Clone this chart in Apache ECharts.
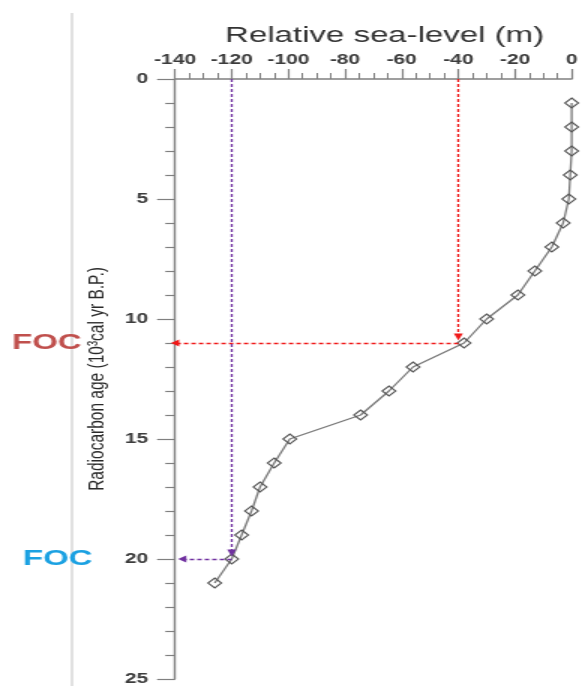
<!DOCTYPE html>
<html>
<head>
<meta charset="utf-8">
<script src="https://cdn.jsdelivr.net/npm/echarts@6/dist/echarts.min.js"></script>
<style>
  html, body { margin: 0; padding: 0; background: #fff; }
  #frame { width: 582px; height: 686px; overflow: hidden; position: relative; }
  /* the figure is laid out on a 388px-wide canvas and widened 1.5x */
  #chart { width: 388px; height: 686px; transform: scaleX(1.5); transform-origin: 0 0; }
</style>
</head>
<body>
<div id="frame"><div id="chart"></div></div>
<script>
// Radiocarbon age (10^3 cal yr B.P.) of each sample
const ages = [1, 2, 3, 4, 5, 6, 7, 8, 9, 10, 11, 12, 13, 14, 15, 16, 17, 18, 19, 20, 21];
// Relative sea-level (m) at each age
const seaLevels = [0, 0, 0, -0.5, -1, -3, -7, -13, -19, -30, -38, -56, -64.5, -74.5, -99.5, -105, -110, -113, -116.5, -120, -126];

const focLabels = ['FOC', 'FOC'];
const focSeaLevel = [-40, -120];
const focAge = [11, 20];
const focColors = ['#f01818', '#7030a0'];
const focTextColors = ['#c0504d', '#1ba1e2'];

// axis ranges and ticks
const xMin = -140, xMax = 0, xStep = 20;
const yMin = 0, yMax = 25, yStep = 5;

const FONT = 'Liberation Sans, Arial, sans-serif';
const AXIS_GREY = '#808080';

const chart = echarts.init(document.getElementById('chart'), null, { renderer: 'canvas' });

const points = ages.map((a, i) => [seaLevels[i], a]);

// dashed guide lines with arrowheads: down from the top axis, then left to the age axis
const guideLines = [];
focSeaLevel.forEach((x, i) => {
  const y = focAge[i];
  const ls = { color: focColors[i], width: 1.3, type: [3, 2] };
  guideLines.push([
    { coord: [x, yMin], lineStyle: ls, symbolSize: [6, 7] },
    { coord: [x, y - 0.25], symbolSize: [6, 7] }
  ]);
  guideLines.push([
    { coord: [x, y], lineStyle: ls, symbolSize: [7, 5.5] },
    { coord: [i === 0 ? xMin : xMin + 2.5, y], symbolSize: [7, 5.5] }
  ]);
});

chart.setOption({
  animation: false,
  backgroundColor: '#fff',
  grid: { left: 116.7, right: 3, top: 79, bottom: 7, containLabel: false },
  xAxis: {
    type: 'value',
    position: 'top',
    min: xMin, max: xMax, interval: xStep,
    name: 'Relative sea-level (m)',
    nameLocation: 'middle',
    nameGap: 32,
    nameTextStyle: { fontFamily: FONT, fontSize: 22, color: '#333', padding: [0, 0, 0, 15] },
    axisLine: { show: true, onZero: false, lineStyle: { color: AXIS_GREY, width: 1.5 } },
    axisTick: { show: true, length: 10, lineStyle: { color: AXIS_GREY, width: 1.2 } },
    minorTick: { show: true, splitNumber: 4, length: 6, lineStyle: { color: AXIS_GREY, width: 1 } },
    axisLabel: { fontFamily: FONT, fontSize: 14, fontWeight: 'bold', color: '#3c3c3c', margin: 12 },
    splitLine: { show: false }
  },
  yAxis: {
    type: 'value',
    inverse: true,
    min: yMin, max: yMax, interval: yStep,
    name: 'Radiocarbon age (10³cal yr B.P.)',
    nameLocation: 'middle',
    nameGap: 42,
    nameRotate: 90,
    nameTextStyle: { fontFamily: FONT, fontSize: 15.5, color: '#2a2a2a' },
    axisLine: { show: true, onZero: false, lineStyle: { color: AXIS_GREY, width: 1.4 } },
    axisTick: { show: true, length: 12, lineStyle: { color: AXIS_GREY, width: 1.2 } },
    minorTick: { show: true, splitNumber: 5, length: 6.5, lineStyle: { color: AXIS_GREY, width: 1.2 } },
    axisLabel: { fontFamily: FONT, fontSize: 14, fontWeight: 'bold', color: '#3c3c3c', margin: 18 },
    splitLine: { show: false }
  },
  series: [{
    type: 'line',
    data: points,
    symbol: 'diamond',
    symbolSize: [9, 10],
    showAllSymbol: true,
    lineStyle: { color: '#7a7a7a', width: 1.3 },
    itemStyle: { color: 'rgba(255,255,255,0)', borderColor: '#555', borderWidth: 1.1 },
    z: 3,
    markLine: {
      silent: true,
      symbol: ['none', 'triangle'],
      label: { show: false },
      emphasis: { disabled: true },
      data: guideLines
    }
  }]
});

// FOC captions placed at the age of each marker, plus the thin frame line on the left
const graphics = [{
  type: 'line',
  shape: { x1: 48, y1: 13, x2: 48, y2: 686 },
  style: { stroke: '#c4c4c4', lineWidth: 1 },
  z: 0
}];
focAge.forEach((a, i) => {
  const py = chart.convertToPixel({ yAxisIndex: 0 }, a);
  graphics.push({
    type: 'text',
    left: i === 0 ? 8 : 15.3,
    top: py - 11,
    z: 5,
    style: {
      text: focLabels[i],
      fill: focTextColors[i],
      font: 'bold 22px ' + FONT
    }
  });
});
chart.setOption({ graphic: graphics });
</script>
</body>
</html>
